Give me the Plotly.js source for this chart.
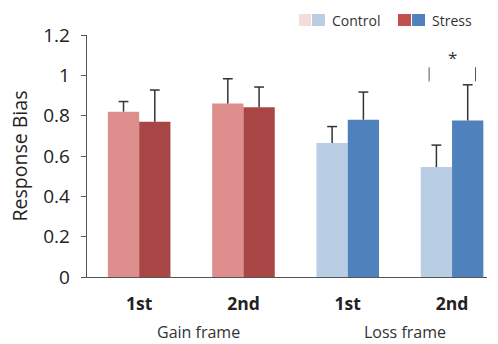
<!DOCTYPE html>
<html>
<head>
<meta charset="utf-8">
<script src="https://cdn.plot.ly/plotly-3.0.1.min.js"></script>
<style>html,body{margin:0;padding:0;background:#fff;}#chart{width:498px;height:344px;}</style>
</head>
<body>
<div id="chart"></div>
<script>
// Data
const categories = ["G1", "G2", "L1", "L2"];
const tickLabels = ["1st", "2nd", "1st", "2nd"];
const frameLabels = ["Gain frame", "Loss frame"];
const controlValues = [0.82, 0.86, 0.665, 0.545];
const controlErrors = [0.05, 0.123, 0.081, 0.109];
const stressValues = [0.77, 0.842, 0.78, 0.776];
const stressErrors = [0.157, 0.10, 0.137, 0.177];
const yTicks = [0, 0.2, 0.4, 0.6, 0.8, 1, 1.2];
const yTickText = ["0", "0.2", "0.4", "0.6", "0.8", "1", "1.2"];

const controlColors = ["#DF8E8E", "#DF8E8E", "#B9CDE5", "#B9CDE5"];
const stressColors = ["#A84646", "#A84646", "#4F81BD", "#4F81BD"];

const xIdx = categories.map((c, i) => i);
const font = "Open Sans, sans-serif";
const barHalf = 0.15; // each bar occupies 0.3 of a category (bargap 0.4, two bars)

function errTrace(values, errs, offset) {
  return {
    type: "scatter", mode: "markers", hoverinfo: "skip", showlegend: false,
    x: xIdx.map(i => i + offset),
    y: values.map((v, i) => v + errs[i]),
    marker: {symbol: "line-ew", size: 7, line: {color: "#333", width: 1.5}, color: "#333"},
    error_y: {type: "data", symmetric: false, array: errs.map(() => 0), arrayminus: errs,
              color: "#333", thickness: 1.5, width: 0}
  };
}

const traces = [
  {type: "bar", x: xIdx, y: controlValues, name: "Control", marker: {color: controlColors}, showlegend: false},
  {type: "bar", x: xIdx, y: stressValues, name: "Stress", marker: {color: stressColors}, showlegend: false},
  errTrace(controlValues, controlErrors, -barHalf),
  errTrace(stressValues, stressErrors, barHalf)
];

function px2paperX(px) { return (px - 87) / 400; }
function px2paperY(py) { return (277 - py) / 242; }

// significance bracket
const sigY0 = 0.97, sigY1 = 1.04;
const shapes = [
  {type: "line", xref: "x", yref: "y", x0: 3 - 0.22, x1: 3 - 0.22, y0: sigY0, y1: sigY1, line: {color: "#555", width: 1}},
  {type: "line", xref: "x", yref: "y", x0: 3 + 0.225, x1: 3 + 0.225, y0: sigY0, y1: sigY1, line: {color: "#555", width: 1}}
];

// legend swatches
const swatches = [
  [299, 311, "#F2DCDB"], [312, 325, "#B9CDE5"], [398, 411, "#C0504D"], [412, 425, "#4F81BD"]
];
swatches.forEach(s => shapes.push({type: "rect", xref: "paper", yref: "paper",
  x0: px2paperX(s[0]), x1: px2paperX(s[1]), y0: px2paperY(26), y1: px2paperY(14),
  line: {width: 0}, fillcolor: s[2]}));

const annotations = [
  {xref: "paper", yref: "paper", x: px2paperX(330), y: px2paperY(20), xanchor: "left", yanchor: "middle",
   text: "Control", showarrow: false, font: {family: font, size: 14, color: "#333"}},
  {xref: "paper", yref: "paper", x: px2paperX(430), y: px2paperY(20), xanchor: "left", yanchor: "middle",
   text: "Stress", showarrow: false, font: {family: font, size: 14, color: "#333"}},
  {xref: "x", yref: "y", x: 3, y: 1.09, text: "*", showarrow: false, font: {family: font, size: 17, color: "#333"}},
  {xref: "x", yref: "paper", x: 0.565, y: px2paperY(332), yanchor: "middle", text: frameLabels[0], showarrow: false,
   font: {family: font, size: 16, color: "#333"}},
  {xref: "x", yref: "paper", x: 2.55, y: px2paperY(332), yanchor: "middle", text: frameLabels[1], showarrow: false,
   font: {family: font, size: 16, color: "#333"}}
];

const layout = {
  width: 498, height: 344,
  margin: {l: 87, r: 11, t: 35, b: 67},
  paper_bgcolor: "#fff", plot_bgcolor: "#fff",
  barmode: "group", bargap: 0.4, bargroupgap: 0,
  xaxis: {range: [-0.5, 3.335], tickvals: xIdx, ticktext: tickLabels, showgrid: false, zeroline: false,
          showline: true, linecolor: "#555", linewidth: 1.3, ticks: "",
          tickfont: {family: font, size: 17.5, color: "#222", weight: "bold"}, ticklabelstandoff: 11},
  yaxis: {range: [0, 1.2], tickvals: yTicks, ticktext: yTickText, showgrid: false, zeroline: false,
          showline: true, linecolor: "#555", linewidth: 1.3, ticks: "outside", ticklen: 5, tickcolor: "#555",
          tickfont: {family: font, size: 19, color: "#222"}, ticklabelstandoff: 7,
          title: {text: "Response Bias", font: {family: font, size: 19.5, color: "#222"}, standoff: 10}},
  shapes: shapes,
  annotations: annotations,
  showlegend: false
};

Plotly.newPlot("chart", traces, layout, {displayModeBar: false, staticPlot: true});
</script>
</body>
</html>
